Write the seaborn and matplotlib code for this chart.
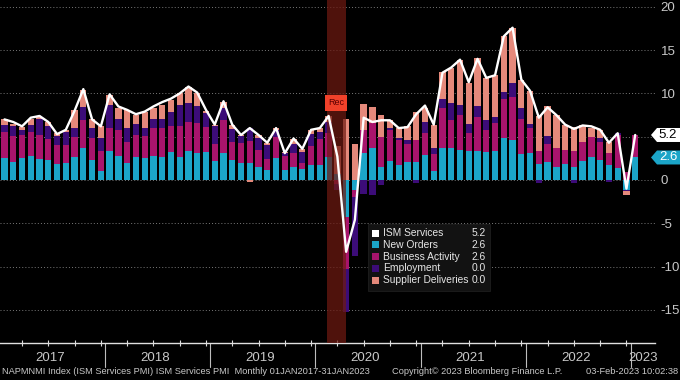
import numpy as np
import pandas as pd
import matplotlib
matplotlib.use("Agg")
import matplotlib.pyplot as plt
import seaborn as sns
from matplotlib.patches import Rectangle, Polygon

# Monthly contributions to the ISM Services PMI (index - 50), Jan 2017 .. Jan 2023
months = pd.date_range("2017-01-01", "2023-01-01", freq="MS")

ism_services = [7.0, 6.7, 6.2, 7.2, 7.4, 6.7, 5.3, 5.8, 8.0, 10.5, 7.0, 6.2,
                9.9, 8.5, 8.1, 7.6, 7.9, 8.5, 9.0, 9.4, 10.0, 10.8, 10.1, 8.1,
                6.4, 9.1, 6.4, 5.2, 6.0, 5.2, 4.3, 6.0, 3.1, 4.8, 3.6, 5.8,
                6.0, 7.4, 2.7, -8.3, -4.6, 7.2, 6.7, 6.9, 6.9, 6.0, 6.1, 7.6,
                8.6, 6.4, 12.4, 13.0, 13.9, 11.3, 14.0, 11.8, 12.1, 16.6, 17.6, 11.6,
                10.3, 7.2, 8.4, 7.5, 6.4, 5.9, 6.3, 6.2, 5.8, 4.3, 5.4, -1.0,
                5.2]
new_orders = [2.5, 2.1, 2.5, 2.8, 2.4, 2.3, 1.9, 2.0, 2.7, 3.7, 2.3, 1.0,
              3.4, 2.8, 2.0, 2.7, 2.5, 2.8, 2.7, 3.2, 2.7, 3.3, 3.1, 3.2,
              2.2, 3.1, 2.3, 2.0, 2.0, 1.5, 1.2, 2.5, 1.2, 1.5, 1.3, 1.7,
              1.7, 2.7, 0.7, -4.3, -1.2, 3.1, 3.7, 1.5, 2.2, 1.7, 2.1, 2.1,
              2.9, 1.0, 3.7, 3.7, 3.5, 3.3, 3.3, 3.2, 3.3, 4.8, 4.6, 3.0,
              3.1, 1.9, 2.1, 1.5, 1.9, 1.5, 2.2, 2.6, 2.3, 1.7, 1.4, -1.2,
              2.6]
business_activity = [3.0, 3.0, 2.7, 2.8, 2.8, 2.4, 2.1, 2.0, 2.3, 3.2, 2.5, 2.3,
                     2.6, 3.0, 2.4, 2.5, 2.6, 3.2, 3.3, 3.0, 3.5, 3.4, 3.5, 2.9,
                     2.0, 3.8, 2.1, 2.3, 2.5, 2.0, 1.2, 2.5, 1.6, 1.6, 0.7, 2.2,
                     3.0, 2.7, -0.5, -6.0, -0.8, 2.7, 2.9, 3.5, 3.6, 2.9, 2.1, 2.5,
                     2.5, 2.0, 4.6, 3.2, 4.0, 2.1, 4.0, 2.6, 3.3, 4.6, 5.0, 4.1,
                     2.9, 1.5, 2.1, 2.2, 1.6, 1.9, 2.2, 2.4, 2.1, 1.4, 3.8, 0.9,
                     2.6]
employment = [0.9, 1.1, 0.6, 0.8, 1.8, 1.5, 1.1, 1.5, 1.0, 1.5, 1.2, 1.6,
              2.7, 1.3, 1.6, 1.3, 0.9, 1.0, 1.1, 1.7, 2.5, 2.2, 1.9, 1.6,
              2.0, 1.4, 1.5, 0.8, 1.5, 1.3, 1.6, 0.8, 0.3, 1.1, 1.2, 1.4,
              0.8, 1.3, -0.7, -5.0, -6.8, -1.6, -1.7, -0.6, 0.2, 0.2, 0.4, -0.3,
              1.3, 0.7, 1.1, 2.0, 1.2, 1.1, 1.2, 1.1, 0.7, 0.8, 1.6, 1.2,
              0.5, -0.3, 0.9, 0.0, 0.0, -0.3, 0.0, 0.0, 0.5, -0.2, 0.2, -0.1,
              0.0]
supplier_deliveries = [0.6, 0.3, 0.3, 0.7, 0.3, 0.5, 0.3, 0.3, 2.1, 2.0, 1.0, 1.3,
                       1.1, 1.2, 2.1, 1.0, 1.8, 1.3, 1.6, 1.4, 1.3, 1.9, 1.6, 0.3,
                       0.2, 0.7, 0.4, 0.1, -0.2, 0.4, 0.3, 0.2, 0.1, 0.5, 0.4, 0.5,
                       0.5, 0.7, 3.2, 7.1, 4.2, 3.0, 1.8, 2.5, 0.9, 1.2, 1.6, 3.2,
                       1.6, 2.7, 3.1, 4.0, 5.2, 4.7, 5.6, 4.9, 4.8, 6.4, 6.4, 3.3,
                       3.8, 4.0, 3.4, 3.8, 2.9, 2.7, 1.9, 1.0, 0.9, 1.3, 0.0, -0.4,
                       0.0]

series_names = ["New Orders", "Business Activity", "Employment", "Supplier Deliveries"]
series_colors = ["#1ba5c8", "#a8146c", "#3c0c78", "#e5897b"]
years = [2017, 2018, 2019, 2020, 2021, 2022, 2023]
y_ticks = [-15, -10, -5, 0, 5, 10, 15, 20]

df = pd.DataFrame({
    "month": months,
    "ISM Services": ism_services,
    "New Orders": new_orders,
    "Business Activity": business_activity,
    "Employment": employment,
    "Supplier Deliveries": supplier_deliveries,
})
df["idx"] = np.arange(len(df))

sns.set_theme(style="dark", rc={"axes.facecolor": "black", "figure.facecolor": "black",
                                "axes.unicode_minus": False})
plt.rcParams["font.family"] = ["Liberation Sans", "DejaVu Sans"]
txt_col = "#c8c8c8"

fig = plt.figure(figsize=(6.8, 3.8), dpi=100)
ax = fig.add_axes([0.0, 1 - 343 / 380, 655 / 680, 343 / 380])
ax.set_facecolor("black")

# stacked bars, positives upward and negatives downward
pos_base = np.zeros(len(df))
neg_base = np.zeros(len(df))
for name, color in zip(series_names, series_colors):
    vals = df[name].to_numpy()
    base = np.where(vals >= 0, pos_base, neg_base)
    ax.bar(df["idx"], vals, bottom=base, width=0.72, color=color, linewidth=0, zorder=2)
    pos_base += np.clip(vals, 0, None)
    neg_base += np.clip(vals, None, 0)

# recession shading
ax.axvspan(36.8, 38.95, facecolor="#6e1a12", alpha=0.72, lw=0, zorder=3)
ax.text(37.85, 8.9, "Rec", ha="center", va="center", fontsize=6.5, color="#5a0000",
        bbox=dict(boxstyle="square,pad=0.35", fc="#f0412a", ec="none"), zorder=4)

sns.lineplot(data=df, x="idx", y="ISM Services", color="white", lw=1.7, ax=ax, zorder=5)

ax.set_xlim(-0.514, 74.26)
ax.set_ylim(-18.84, 20.8)
ax.set_yticks(y_ticks)
# the "5" label sits under the last-value tag, as in the source chart
ax.set_yticklabels(["" if t == 5 else str(t) for t in y_ticks])
ax.yaxis.tick_right()
ax.tick_params(axis="y", length=0, pad=4, labelsize=9.5, labelcolor=txt_col)
ax.grid(axis="y", color="#7a7a7a", linestyle=(0, (1, 2.2)), lw=0.7)
ax.grid(axis="x", visible=False)
ax.set_axisbelow(True)
ax.set_xlabel("")
ax.set_ylabel("")

ax.set_xticks(np.arange(2, len(df), 3))
ax.set_xticklabels([])
ax.tick_params(axis="x", direction="inout", length=5, width=0.8, color="#dddddd", bottom=True)
for side in ["top", "left", "right"]:
    ax.spines[side].set_visible(False)
ax.spines["bottom"].set_color("#e0e0e0")
ax.spines["bottom"].set_linewidth(1.0)

xt = ax.get_xaxis_transform()
for k, yr in enumerate(years):
    start = 12 * k - 0.5
    if k > 0:
        ax.plot([start, start], [0, -0.07], transform=xt, color="#bdbdbd", lw=0.8, clip_on=False)
    centre = 12 * k + 5.2 if yr < 2023 else 72.9
    ax.text(centre, -0.043, str(yr), transform=xt, ha="center", va="center",
            color=txt_col, fontsize=9.5)


def fx(px):
    return px / 680


def fy(py):
    return 1 - py / 380


# last-value tags on the right edge
fig.canvas.draw()
to_fig = fig.transFigure.inverted()
for val, fc, tc in [(ism_services[-1], "white", "black"), (new_orders[-1], series_colors[0], "white")]:
    yf = to_fig.transform(ax.transData.transform((0, val)))[1]
    h = 7 / 380
    fig.patches.append(Polygon([(fx(651), yf), (fx(657), yf + h), (fx(680), yf + h),
                                (fx(680), yf - h), (fx(657), yf - h)], closed=True,
                               transform=fig.transFigure, fc=fc, ec="none", zorder=6))
    fig.text(fx(668), yf, f"{val:.1f}", ha="center", va="center", fontsize=9.5, color=tc, zorder=7)

# legend panel with last values
fig.patches.append(Rectangle((fx(368), fy(291)), fx(490) - fx(368), fy(224) - fy(291),
                             transform=fig.transFigure, fc="#121212", ec="#1e1e1e", lw=0.6, zorder=6))
legend_names = ["ISM Services"] + series_names
legend_colors = ["white"] + series_colors
legend_vals = [ism_services[-1], new_orders[-1], business_activity[-1],
               employment[-1], supplier_deliveries[-1]]
for r, (nm, col, v) in enumerate(zip(legend_names, legend_colors, legend_vals)):
    yy = 233 + r * 11.8
    fig.patches.append(Rectangle((fx(372), fy(yy + 3.5)), fx(7), 7 / 380,
                                 transform=fig.transFigure, fc=col, ec="none", zorder=7))
    fig.text(fx(383), fy(yy), nm, ha="left", va="center", fontsize=7.4, color="#e6e6e6", zorder=7)
    fig.text(fx(486), fy(yy), f"{v:.1f}", ha="right", va="center", fontsize=7.4, color="#e6e6e6", zorder=7)

# footer
foot_kw = dict(va="center", fontsize=6.7, color=txt_col)
fig.text(fx(2), fy(372), "NAPMNMI Index (ISM Services PMI) ISM Services PMI  Monthly 01JAN2017-31JAN2023",
         ha="left", **foot_kw)
fig.text(fx(392), fy(372), "Copyright\u00a9 2023 Bloomberg Finance L.P.", ha="left", **foot_kw)
fig.text(fx(678), fy(372), "03-Feb-2023 10:02:38", ha="right", **foot_kw)

fig.savefig("out.png", dpi=100, facecolor="black")
